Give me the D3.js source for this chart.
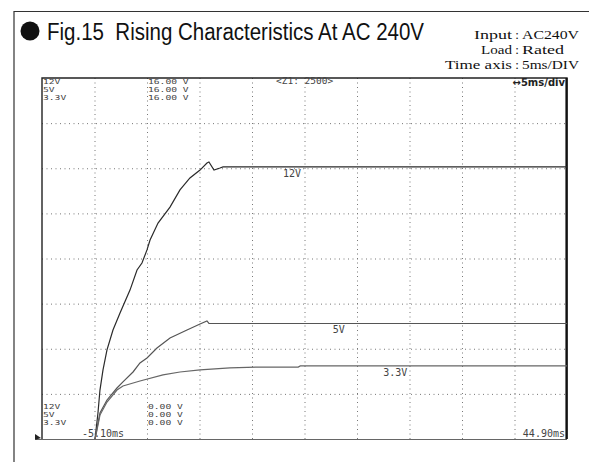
<!DOCTYPE html>
<html>
<head>
<meta charset="utf-8">
<script src="https://cdn.jsdelivr.net/npm/d3@7"></script>
<style>
  body { margin: 0; background: #fff; }
  svg { display: block; }
  .mono { font-family: "DejaVu Sans Mono", monospace; fill: #444; }
</style>
</head>
<body>
<div id="chart"></div>
<script>
// time in ms, voltage in V
var t12 = [-0.05, 0.23, 0.42, 0.71, 1.09, 1.66, 2.33, 3.28, 3.95, 4.42, 4.90, 5.19, 5.95, 7.09, 8.04, 8.99, 9.95, 10.61, 10.80, 11.28, 11.85, 12.14, 44.9];
var v12 = [0, 1.15, 2.17, 3.06, 3.95, 4.83, 5.58, 6.60, 7.49, 7.80, 8.38, 8.82, 9.57, 10.28, 11.04, 11.57, 11.92, 12.23, 12.28, 11.92, 12.01, 12.06, 12.06];

var t5 = [-0.05, 0.14, 0.42, 1.09, 2.04, 2.61, 3.57, 4.23, 4.90, 5.85, 7.09, 8.71, 9.95, 10.61, 10.80, 44.9];
var v5 = [0, 0.49, 1.15, 1.73, 2.26, 2.53, 2.97, 3.37, 3.59, 4.03, 4.48, 4.83, 5.10, 5.23, 5.12, 5.12];

var t33 = [-0.05, 0.14, 0.42, 1.09, 2.04, 2.61, 4.23, 6.42, 8.04, 9.95, 12.8, 15.66, 19.3, 19.5, 44.9];
var v33 = [0, 0.40, 1.06, 1.64, 2.17, 2.35, 2.57, 2.84, 2.97, 3.06, 3.15, 3.19, 3.19, 3.24, 3.24];

var timeTicks = [-0.1, 4.9, 9.9, 14.9, 19.9, 24.9, 29.9, 34.9, 39.9];
var voltTicks = [2, 4, 6, 8, 10, 12, 14];
var channels = ["12V", "5V", "3.3V"];

var svg = d3.select("#chart").append("svg")
  .attr("width", 589)
  .attr("height", 462);

var x = d3.scaleLinear().domain([-5.1, 44.9]).range([42, 567]);
var y = d3.scaleLinear().domain([0, 16]).range([439, 78]);

// outer frame (open at right and bottom)
svg.append("path")
  .attr("d", "M14,462 V11.5 H589")
  .style("fill", "none").style("stroke", "#333").style("stroke-width", 1.2);

// title
svg.append("circle").attr("cx", 30).attr("cy", 31).attr("r", 9.5).style("fill", "#111");
svg.append("text")
  .text("Fig.15  Rising Characteristics At AC 240V")
  .attr("x", 47).attr("y", 39.5)
  .attr("textLength", 377).attr("lengthAdjust", "spacingAndGlyphs")
  .style("white-space", "pre")
  .style("font-family", "Liberation Sans, Arial, sans-serif")
  .style("font-size", "23.5px").style("fill", "#111");

// test conditions, aligned on the colon
var noteKeys = ["Input", "Load", "Time axis"];
var noteVals = ["AC240V", "Rated", "5ms/DIV"];
var keyLen = [38, 31, 67];
var valLen = [57, 42, 57];
noteKeys.forEach(function (k, i) {
  var t = svg.append("text")
    .attr("y", 39 + i * 14.8)
    .style("font-family", "Liberation Serif, Times New Roman, serif")
    .style("font-size", "13px").style("fill", "#111");
  t.append("tspan").text(k).attr("x", 512 - keyLen[i]).attr("text-anchor", "start")
    .attr("textLength", keyLen[i]).attr("lengthAdjust", "spacingAndGlyphs");
  t.append("tspan").text(":").attr("x", 517).attr("text-anchor", "middle");
  t.append("tspan").text(noteVals[i]).attr("x", 522).attr("text-anchor", "start")
    .attr("textLength", valLen[i]).attr("lengthAdjust", "spacingAndGlyphs");
});

// grid through axes
var grid = svg.append("g");
grid.append("g")
  .attr("transform", "translate(0,439)")
  .call(d3.axisBottom(x).tickValues(timeTicks).tickSize(-361).tickFormat(""))
  .call(function (g) { g.select(".domain").remove(); });
grid.append("g")
  .attr("transform", "translate(42,0)")
  .call(d3.axisLeft(y).tickValues(voltTicks).tickSize(-525).tickFormat(""))
  .call(function (g) { g.select(".domain").remove(); });
grid.selectAll(".tick line")
  .style("stroke", "#777").style("stroke-width", 1)
  .style("stroke-dasharray", "1,3.5");

// plot frame
svg.append("path")
  .attr("d", "M42,439 V78 H567 V439")
  .style("fill", "none").style("stroke", "#222").style("stroke-width", 1.4);
svg.append("line")
  .attr("x1", 566.5).attr("x2", 566.5).attr("y1", 78).attr("y2", 439)
  .style("stroke", "#111").style("stroke-width", 2.2);
svg.append("line")
  .attr("x1", 36).attr("x2", 567).attr("y1", 439.5).attr("y2", 439.5)
  .style("stroke", "#666").style("stroke-width", 1.2);
svg.append("path")
  .attr("d", "M35,434 L41,438 L35,440 Z").style("fill", "#222");

// traces
var line = d3.line().x(function (d) { return x(d[0]); }).y(function (d) { return y(d[1]); });
var traces = [
  {t: t12, v: v12, c: "#2a2a2a"},
  {t: t5, v: v5, c: "#555"},
  {t: t33, v: v33, c: "#666"}
];
traces.forEach(function (tr) {
  svg.append("path")
    .datum(tr.t.map(function (t, i) { return [t, tr.v[i]]; }))
    .attr("d", line)
    .style("fill", "none").style("stroke", tr.c).style("stroke-width", 1.2);
});

// trace labels
var traceLabels = [["12V", 17.85, 12.06], ["5V", 22.6, 5.12], ["3.3V", 27.4, 3.24]];
traceLabels.forEach(function (l) {
  svg.append("text").attr("class", "mono").text(l[0])
    .attr("x", x(l[1])).attr("y", y(l[2]) + 10)
    .style("font-size", "10px");
});

// scope header / footer text, stacked, wide pixel-font look
function stack(xp, yp, lines) {
  var t = svg.append("text").attr("class", "mono")
    .attr("x", xp).attr("y", yp).style("font-size", "6.8px");
  lines.forEach(function (s, i) {
    t.append("tspan").text(s).attr("x", xp).attr("dy", i === 0 ? 0 : 8)
      .attr("textLength", s.length * 5.8).attr("lengthAdjust", "spacingAndGlyphs");
  });
}
stack(43, 83.5, channels);
stack(148, 83.5, channels.map(function () { return "16.00 V"; }));
stack(43, 409, channels);
stack(148, 409, channels.map(function () { return "0.00 V"; }));

svg.append("text").attr("class", "mono").text("<Z1: 2500>")
  .attr("x", 276).attr("y", 84).style("font-size", "9.5px");
svg.append("text").text("\u21945ms/div")
  .attr("x", 565).attr("y", 86).attr("text-anchor", "end")
  .style("font-family", "DejaVu Sans, sans-serif").style("font-weight", "bold")
  .style("font-size", "10px").style("fill", "#222");
svg.append("text").attr("class", "mono").text("-5.10ms")
  .attr("x", 82).attr("y", 437).style("font-size", "10px");
svg.append("text").attr("class", "mono").text("44.90ms")
  .attr("x", 565).attr("y", 437).attr("text-anchor", "end").style("font-size", "10px");
</script>
</body>
</html>
